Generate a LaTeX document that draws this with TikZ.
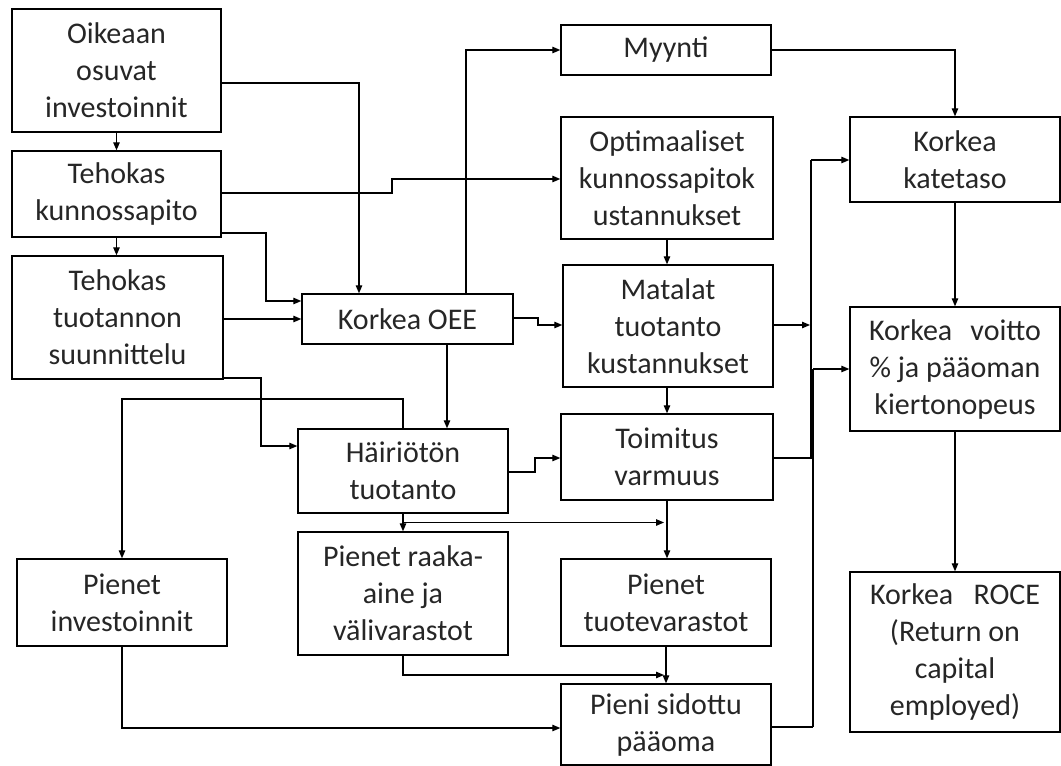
\documentclass[tikz,border=0pt]{standalone}
\usepackage{fontspec}
\setmainfont{Carlito}
\usetikzlibrary{arrows.meta,calc}
\begin{document}
\begin{tikzpicture}[x=1pt,y=-1pt,
  box/.style={draw=black, line width=1.4pt, align=center, inner sep=0pt,
    font=\fontsize{30}{37}\selectfont, text=black!85},
  arr/.style={line width=1.2pt, -{Triangle[length=8pt,width=6.5pt]}},
  ln/.style={line width=1.2pt}]
\useasboundingbox (0,0) rectangle (1061,766);

% left column
\node[box, minimum width=209, minimum height=123] (oik) at (116.5,70.5) {Oikeaan\\osuvat\\investoinnit};
\node[box, minimum width=209, minimum height=86] (kun) at (116.5,194) {Tehokas\\kunnossapito};
\node[box, minimum width=211, minimum height=123] (suu) at (117.5,317.5) {Tehokas\\tuotannon\\suunnittelu};
\node[box, minimum width=210, minimum height=87] (inv) at (122,602.5) {Pienet\\investoinnit};

% second column
\node[box, minimum width=211, minimum height=50] (oee) at (407.5,319) {Korkea OEE};
\node[box, minimum width=210, minimum height=84] (hai) at (403,471) {Häiriötön\\tuotanto};
\node[box, minimum width=210, minimum height=123] (raa) at (403,593.5) {Pienet raaka-\\aine ja\\välivarastot};

% third column
\node[box, minimum width=210, minimum height=50] (myy) at (666,50) {Myynti};
\node[box, minimum width=212, minimum height=122] (opt) at (667,178) {Optimaaliset\\kunnossapitok\\ustannukset};
\node[box, minimum width=210, minimum height=122] (mat) at (668,326) {Matalat\\tuotanto\\kustannukset};
\node[box, minimum width=212, minimum height=86] (toi) at (667,457) {Toimitus\\varmuus};
\node[box, minimum width=210, minimum height=87] (tuo) at (666,602.5) {Pienet\\tuotevarastot};
\node[box, minimum width=210, minimum height=81] (sid) at (666,724.5) {Pieni sidottu\\pääoma};

% right column (first lines set justified)
\node[box, minimum width=210, minimum height=85] (kat) at (955,159.5) {Korkea\\katetaso};
\node[box, minimum width=210, minimum height=124] (voi) at (955,369) {\makebox[172pt][s]{Korkea voitto}\\\% ja pääoman\\kiertonopeus};
\node[box, minimum width=210, minimum height=160] (roce) at (955,652) {\makebox[170pt][s]{Korkea ROCE}\\(Return on\\capital\\employed)};

% left column chain
\draw[arr] (oik.south) -- (kun.north);
\draw[arr] (kun.south) -- (kun.south |- suu.north);

% into Korkea OEE
\draw[arr] (oik.east |- 0,83) -| (359,0 |- oee.north);
\draw[arr] (kun.east |- 0,233) -| (266,270) |- (oee.west |- 0,301);
\draw[arr] (suu.east |- oee.west) -- (oee.west);

% maintenance costs
\draw[arr] (kun.east |- 0,193) -| (392,186) |- (opt.west |- 0,179);
\draw[arr] (opt.south) -- (opt.south |- mat.north);

% from Korkea OEE
\draw[arr] (oee.north -| 466,0) |- (myy.west);
\draw[arr] (oee.east |- 0,318) -| (538,322) |- (mat.west |- 0,325);
\draw[arr] (oee.south -| 447,0) -- (hai.north -| 447,0);

% sales to margin
\draw[arr] (myy.east) -| (kat.north);

% production planning to undisturbed production
\draw[arr] (suu.east |- 0,378) -| (261,420) |- (hai.west |- 0,446);

% undisturbed production
\draw[arr] (hai.north) |- (inv.north |- 0,399) -- (inv.north);
\draw[arr] (hai.east |- 0,472) -| (535,465) |- (toi.west |- 0,458);
\coordinate (hr) at ($(hai.south)!.5!(raa.north)$);
\draw[arr] (hai.south) -- (raa.north);
\draw[arr] (hr) -- (hr -| 664,0);

% stocks and capital
\draw[arr] (mat.south -| toi.north) -- (toi.north);
\draw[arr] (toi.south) -- (toi.south |- tuo.north);
\draw[arr] (tuo.south) -- (tuo.south |- sid.north);
\draw[arr] (raa.south) |- (664,675);
\draw[arr] (inv.south) |- (sid.west |- 0,728);

% collector lines to the right column
\coordinate (ba) at (811,160);
\coordinate (bb) at (813,369);
\draw[ln] (ba) -- (811,458);
\draw[ln] (bb) -- (813,727);
\draw[arr] (ba) -- (kat.west |- ba);
\draw[arr] (bb) -- (voi.west |- bb);
\draw[arr] (mat.east |- 0,325) -- (810,325);
\draw[ln] (toi.east |- 0,458) -- (813,458);
\draw[ln] (sid.east |- 0,727) -- (813,727);

% right column chain
\draw[arr] (kat.south) -- (voi.north);
\draw[arr] (voi.south) -- (roce.north);
\end{tikzpicture}
\end{document}
